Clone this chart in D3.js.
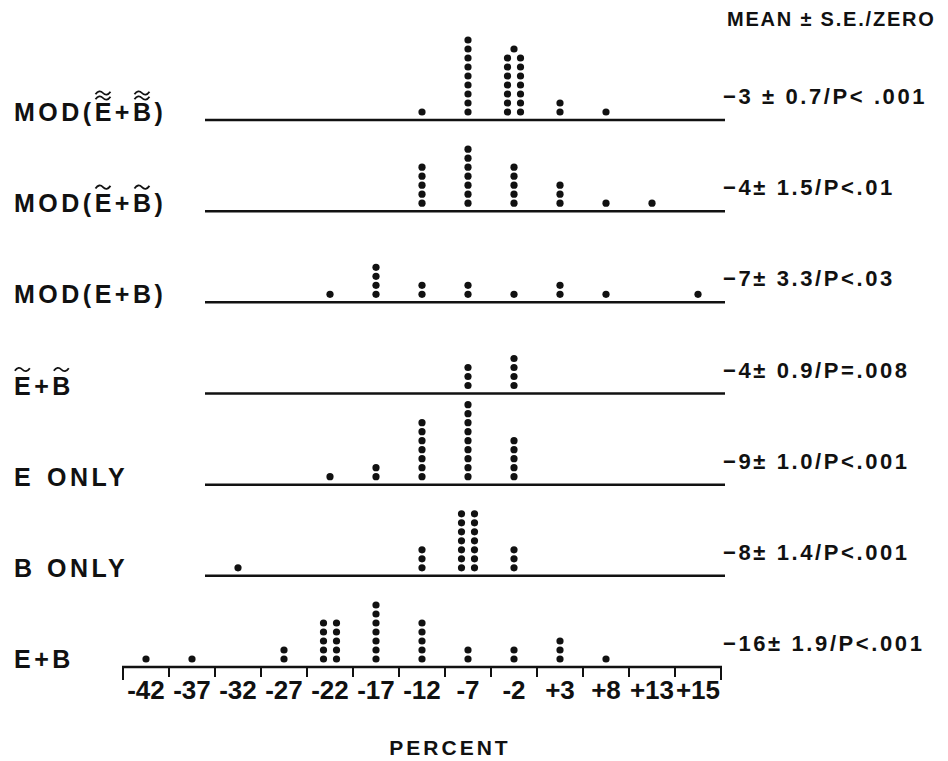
<!DOCTYPE html>
<html>
<head>
<meta charset="utf-8">
<script src="https://cdn.jsdelivr.net/npm/d3@7"></script>
<style>
  body { margin: 0; background: #fff; }
  text { font-family: "Liberation Sans", Arial, Helvetica, sans-serif; fill: #111; }
</style>
</head>
<body>
<svg id="viz"></svg>
<script>
const width = 948, height = 761;

// percent bins along the bottom axis
const bins = ["-42", "-37", "-32", "-27", "-22", "-17", "-12", "-7", "-2", "+3", "+8", "+13", "+15"];

// row labels (top to bottom); accent drawn over E and B
const rowLabels = ["MOD(E+B)", "MOD(E+B)", "MOD(E+B)", "E+B", "E", "B", "E+B"];
const rowSuffix = ["", "", "", "", "ONLY", "ONLY", ""];
const accents = ["double", "single", "", "single", "", "", ""];

// mean ± S.E. / P vs zero
const stats = [
  "\u22123 \u00b1 0.7/P< .001",
  "\u22124\u00b1 1.5/P<.01",
  "\u22127\u00b1 3.3/P<.03",
  "\u22124\u00b1 0.9/P=.008",
  "\u22129\u00b1 1.0/P<.001",
  "\u22128\u00b1 1.4/P<.001",
  "\u221216\u00b1 1.9/P<.001"
];

// number of subjects in each bin, one array per row
const modDouble = [0, 0, 0, 0, 0, 0, 1, 9, 15, 2, 1, 0, 0];
const modSingle = [0, 0, 0, 0, 0, 0, 5, 7, 5, 3, 1, 1, 0];
const modPlain  = [0, 0, 0, 0, 1, 4, 2, 2, 1, 2, 1, 0, 1];
const tildeEB   = [0, 0, 0, 0, 0, 0, 0, 3, 4, 0, 0, 0, 0];
const eOnly     = [0, 0, 0, 0, 1, 2, 7, 9, 5, 0, 0, 0, 0];
const bOnly     = [0, 0, 1, 0, 0, 0, 3, 14, 3, 0, 0, 0, 0];
const ePlusB    = [1, 1, 0, 2, 10, 7, 5, 2, 2, 3, 1, 0, 0];
const counts = [modDouble, modSingle, modPlain, tildeEB, eOnly, bOnly, ePlusB];

const svg = d3.select("#viz")
  .attr("width", width)
  .attr("height", height);

svg.append("rect").attr("width", width).attr("height", height).attr("fill", "#fff");

const x = d3.scaleBand().domain(bins).range([123, 721]);
const y = d3.scalePoint().domain(d3.range(rowLabels.length)).range([120, 667]);

const dotR = 3.6, dotStep = 9, dotBase = 8, colGap = 6.5;

// dots
const dots = [];
counts.forEach(function(row, i) {
  row.forEach(function(n, j) {
    const cx = x(bins[j]) + x.bandwidth() / 2;
    if (n >= 10) {
      const pairs = Math.floor(n / 2);
      for (let k = 0; k < pairs; k++) {
        dots.push({x: cx - colGap, y: y(i) - dotBase - k * dotStep});
        dots.push({x: cx + colGap, y: y(i) - dotBase - k * dotStep});
      }
      if (n % 2) dots.push({x: cx, y: y(i) - dotBase - pairs * dotStep});
    } else {
      for (let k = 0; k < n; k++) dots.push({x: cx, y: y(i) - dotBase - k * dotStep});
    }
  });
});

svg.selectAll("circle")
  .data(dots)
  .enter().append("circle")
  .attr("cx", d => d.x)
  .attr("cy", d => d.y)
  .attr("r", dotR)
  .attr("fill", "#111");

// row baselines (all but the last, which is the axis)
svg.selectAll("line.row")
  .data(d3.range(rowLabels.length - 1))
  .enter().append("line")
  .attr("class", "row")
  .attr("x1", 205).attr("x2", 725)
  .attr("y1", d => y(d)).attr("y2", d => y(d))
  .attr("stroke", "#111")
  .attr("stroke-width", 2.5);

// bottom axis with ticks at bin edges
const axisY = y(rowLabels.length - 1);
const axis = svg.append("g").attr("transform", "translate(0," + axisY + ")");
axis.append("line")
  .attr("x1", x.range()[0] - 1).attr("x2", x.range()[1] + 1)
  .attr("stroke", "#111").attr("stroke-width", 2.5);
const edges = bins.map(b => x(b)).concat([x.range()[1]]);
axis.selectAll("line.tick")
  .data(edges)
  .enter().append("line")
  .attr("class", "tick")
  .attr("x1", d => d).attr("x2", d => d)
  .attr("y1", 0).attr("y2", (d, i) => (i === 0 || i === edges.length - 1) ? 13 : 10)
  .attr("stroke", "#111").attr("stroke-width", 2);
axis.selectAll("text")
  .data(bins)
  .enter().append("text")
  .attr("x", d => x(d) + x.bandwidth() / 2)
  .attr("y", 32)
  .attr("text-anchor", "middle")
  .attr("font-size", 26)
  .attr("font-weight", "bold")
  .text(d => d);

svg.append("text")
  .attr("x", 450).attr("y", 755)
  .attr("text-anchor", "middle")
  .attr("font-size", 21)
  .attr("font-weight", "bold")
  .attr("letter-spacing", 3)
  .text("PERCENT");

// header
svg.append("text")
  .attr("x", 727).attr("y", 26)
  .attr("font-size", 20)
  .attr("font-weight", "bold")
  .attr("letter-spacing", 1.8)
  .text("MEAN \u00b1 S.E./ZERO");

// stats on the right
svg.selectAll("text.stat")
  .data(stats)
  .enter().append("text")
  .attr("class", "stat")
  .attr("x", 723)
  .attr("y", (d, i) => y(i) - 16)
  .attr("font-size", 22)
  .attr("font-weight", "bold")
  .attr("letter-spacing", 2.6)
  .text(d => d);

// row labels
const labels = svg.selectAll("text.rowlabel")
  .data(rowLabels)
  .enter().append("text")
  .attr("class", "rowlabel")
  .attr("x", 14)
  .attr("y", (d, i) => y(i) + 1)
  .attr("font-size", 25)
  .attr("font-weight", "bold")
  .attr("letter-spacing", 3.5);
labels.append("tspan").text(d => d);
labels.append("tspan")
  .attr("x", 47)
  .text((d, i) => rowSuffix[i]);

// tildes over E and B
function tilde(cx, ty, w) {
  return "M" + (cx - w / 2) + "," + (ty + 1.3) +
    " Q" + (cx - w / 4) + "," + (ty - 4) + " " + cx + "," + ty +
    " T" + (cx + w / 2) + "," + (ty - 1.3);
}
labels.each(function(d, i) {
  if (!accents[i]) return;
  const node = this.firstChild;
  const base = y(i) + 1;
  for (let c = 0; c < d.length; c++) {
    if (d[c] !== "E" && d[c] !== "B") continue;
    const ext = node.getExtentOfChar(c);
    const cx = ext.x + (ext.width - 3.5) / 2;
    const offs = accents[i] === "double" ? [23, 28] : [25];
    offs.forEach(function(o) {
      svg.append("path")
        .attr("d", tilde(cx, base - o, 15))
        .attr("fill", "none")
        .attr("stroke", "#111")
        .attr("stroke-width", 1.8);
    });
  }
});
</script>
</body>
</html>
